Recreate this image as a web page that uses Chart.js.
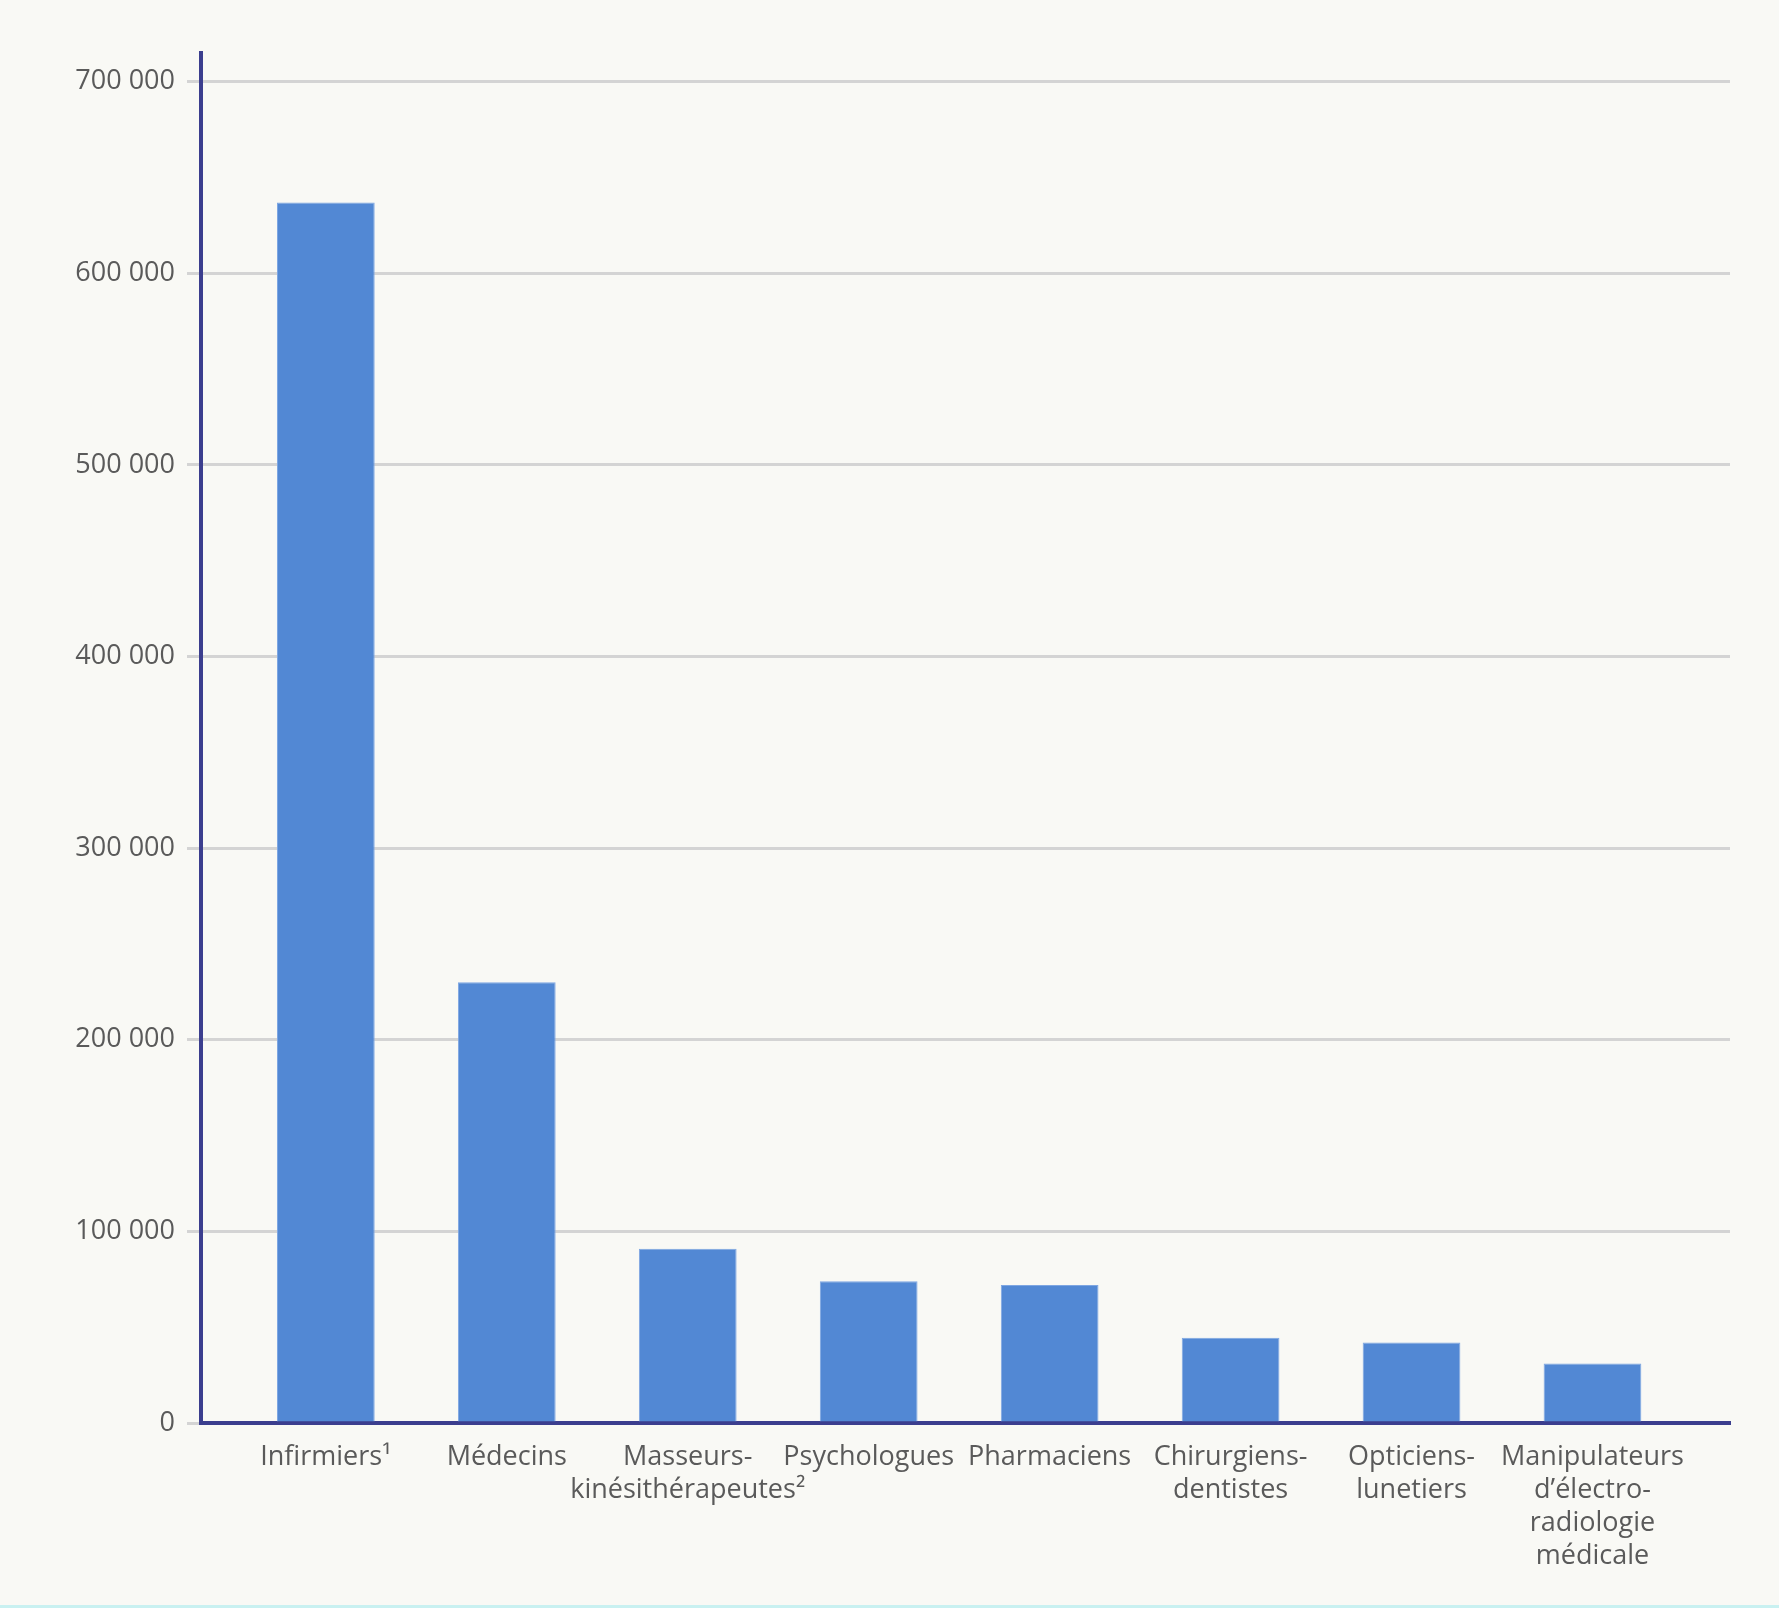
<!DOCTYPE html>
<html lang="fr">
<head>
  <meta charset="UTF-8">
  <title>Professionnels de santé</title>
  <script src="https://cdn.jsdelivr.net/npm/chart.js"></script>
  <style>
    html, body { margin: 0; padding: 0; background: #f9f9f5; }
    #wrap { position: relative; width: 1779px; height: 1608px; }
    #bottomLine { position: absolute; left: 0; right: 0; bottom: 0; height: 3px; background: #c9f1f1; }
  </style>
</head>
<body>

<div id="wrap">
  <canvas id="chart"></canvas>
  <div id="bottomLine"></div>
</div>

<script>
const categories = [
  ['Infirmiers¹'],
  ['Médecins'],
  ['Masseurs-', 'kinésithérapeutes²'],
  ['Psychologues'],
  ['Pharmaciens'],
  ['Chirurgiens-', 'dentistes'],
  ['Opticiens-', 'lunetiers'],
  ['Manipulateurs', 'd’électro-', 'radiologie', 'médicale']
];
const effectifs = [637000, 230000, 91000, 74000, 72000, 44500, 42000, 31000];
const yTicks = [0, 100000, 200000, 300000, 400000, 500000, 600000, 700000];

const axisColor = '#3b3e8e';
const textColor = '#5a5a5a';

function formatNumber(v) {
  return String(v).replace(/\B(?=(\d{3})+(?!\d))/g, ' ');
}

const ctx = document.getElementById('chart').getContext('2d');
new Chart(ctx, {
  type: 'bar',
  data: {
    datasets: [{
      data: effectifs.map((v, i) => ({ x: i, y: v })),
      backgroundColor: '#5288d4',
      borderColor: '#7ea6e2',
      borderWidth: 1,
      categoryPercentage: 1,
      barPercentage: 0.54
    }]
  },
  options: {
    responsive: true,
    maintainAspectRatio: false,
    animation: false,
    layout: { padding: { left: 0, right: 49, top: 53, bottom: 0 } },
    plugins: {
      legend: { display: false },
      tooltip: { enabled: false }
    },
    scales: {
      x: {
        type: 'linear',
        offset: false,
        min: -0.69,
        max: 7.76,
        afterBuildTicks: scale => {
          scale.ticks = categories.map((c, i) => ({ value: i }));
        },
        afterFit: scale => { scale.height = 185; },
        grid: { display: false, drawTicks: false },
        border: { color: axisColor, width: 4 },
        ticks: {
          autoSkip: false,
          maxRotation: 0,
          padding: 18,
          color: textColor,
          font: { family: 'Open Sans', size: 27, lineHeight: 1.22 },
          callback: v => categories[v]
        }
      },
      y: {
        min: 0,
        max: 715000,
        afterBuildTicks: scale => {
          scale.ticks = yTicks.map(v => ({ value: v }));
        },
        afterFit: scale => { scale.width = 201; },
        grid: { color: '#d4d4d4', lineWidth: 3, tickLength: 14 },
        border: { color: axisColor, width: 4 },
        ticks: {
          padding: 12,
          color: textColor,
          font: { family: 'Open Sans', size: 27 },
          callback: v => formatNumber(v)
        }
      }
    }
  }
});
</script>
</body>
</html>
